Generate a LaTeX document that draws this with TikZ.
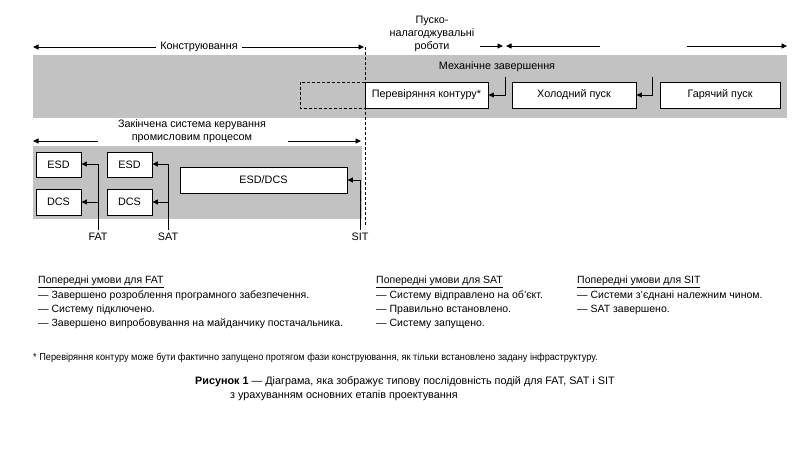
\documentclass[tikz,border=0pt]{standalone}
\usepackage{fontspec}
\setmainfont{Liberation Sans}
\newfontfamily\narrowsans[FakeStretch=0.92]{Liberation Sans}
\usetikzlibrary{arrows.meta}

\definecolor{band}{RGB}{194,194,194}

\tikzset{
  diag/.style={font=\fontsize{10.8}{13}\selectfont},
  stagebox/.style={draw=black, line width=0.9pt, fill=white, inner sep=0pt,
    font=\fontsize{10.8}{13}\selectfont},
  arr/.style={line width=0.8pt, -{Triangle[length=5.5pt,width=5pt]}},
  pline/.style={line width=0.8pt},
  phase/.style={line width=0.8pt, dash pattern=on 3pt off 2pt},
  listtext/.style={anchor=north west, align=left, inner sep=0pt,
    font=\fontsize{10.5}{14.3}\selectfont},
}

\newcommand{\boxat}[6]{%
  \node[stagebox, minimum width=#4-#2, minimum height=#5-#3]
    (#1) at ({(#2+#4)/2},{(#3+#5)/2}) {#6};}

\begin{document}
\begin{tikzpicture}[x=1pt,y=-1pt]
  \useasboundingbox (0,0) rectangle (800,462);

  % grey stage bands
  \fill[band] (33,55) rectangle (787,118);
  \fill[band] (33,146) rectangle (362,219);

  % construction phase arrow
  \coordinate (kL) at (33,47);
  \coordinate (kR) at (364,47);
  \draw[pline, {Triangle[length=5.5pt,width=5pt]}-{Triangle[length=5.5pt,width=5pt]}] (kL) -- (kR);
  \node[diag, fill=white, inner xsep=4pt] (kon) at (199,47) {Конструювання};

  % commissioning phase
  \node[diag, align=center, font=\fontsize{10.8}{13}\selectfont] (pnr) at (432,34)
    {Пуско-\\налагоджувальні\\роботи};
  \coordinate (p1s) at (480,46);
  \coordinate (p1e) at (503,46);
  \coordinate (p2s) at (600,46);
  \coordinate (p2e) at (506,46);
  \coordinate (p3s) at (687,46);
  \coordinate (p3e) at (787,46);
  \draw[arr] (p1s) -- (p1e);
  \draw[arr] (p2s) -- (p2e);
  \draw[arr] (p3s) -- (p3e);

  % phase boundary
  \coordinate (bT) at (365,47);
  \coordinate (bB) at (365,226);
  \draw[phase] (bT) -- (bB);

  % loop check may start earlier
  \draw[phase] (365,82) -- (300,82) -- (300,108) -- (365,108);

  % stages after mechanical completion
  \boxat{loop}{365}{82}{488}{108}{Перевіряння контуру*}
  \boxat{cold}{512}{82}{636}{108}{Холодний пуск}
  \boxat{hot}{660}{82}{780}{108}{Гарячий пуск}
  \node[diag] (mech) at (497,67) {Механічне завершення};

  \coordinate (m1) at (505,77);
  \coordinate (m2) at (652,77);
  \draw[arr] (m1) |- (loop.east |- 0,95);
  \draw[arr] (m2) |- (cold.east |- 0,95);

  % integrated control system
  \node[diag, align=center, font=\fontsize{10.8}{13}\selectfont] (ics) at (192,131)
    {Закінчена система керування\\промисловим процесом};
  \coordinate (iL) at (33,141);
  \coordinate (iLs) at (98,141);
  \coordinate (iRs) at (288,141);
  \coordinate (iR) at (361,141);
  \draw[arr] (iLs) -- (iL);
  \draw[arr] (iRs) -- (iR);

  \boxat{esdA}{36}{152}{81}{177}{ESD}
  \boxat{dcsA}{36}{189}{81}{215}{DCS}
  \boxat{esdB}{107}{152}{152}{177}{ESD}
  \boxat{dcsB}{107}{189}{152}{215}{DCS}
  \boxat{both}{180}{167}{347}{193}{ESD/DCS}

  % test points
  \node[diag] (fat) at (98,237) {FAT};
  \node[diag] (sat) at (168,237) {SAT};
  \node[diag] (sit) at (360,237) {SIT};

  \draw[pline] (fat.north) -- (98,164);
  \draw[arr] (98,164) -- (esdA.east |- 0,164);
  \draw[arr] (98,202) -- (dcsA.east |- 0,202);
  \draw[pline] (sat.north) -- (168,164);
  \draw[arr] (168,164) -- (esdB.east |- 0,164);
  \draw[arr] (168,202) -- (dcsB.east |- 0,202);
  \draw[pline] (sit.north) -- (360,180);
  \draw[arr] (360,180) -- (both.east |- 0,180);

  % preconditions
  \node[listtext] (preF) at (38,276) {\underline{Попередні умови для FAT}\\
    — Завершено розроблення програмного забезпечення.\\
    — Систему підключено.\\
    — Завершено випробовування на майданчику постачальника.};
  \node[listtext] (preS) at (376,276) {\underline{Попередні умови для SAT}\\
    — Систему відправлено на об'єкт.\\
    — Правильно встановлено.\\
    — Систему запущено.};
  \node[listtext] (preT) at (577,276) {\underline{Попередні умови для SIT}\\
    — Системи з'єднані належним чином.\\
    — SAT завершено.};

  % footnote and caption
  \node[anchor=west, inner sep=0pt, font=\narrowsans\fontsize{10}{11}\selectfont] (note) at (33,358)
    {* Перевіряння контуру може бути фактично запущено протягом фази конструювання, як тільки встановлено задану інфраструктуру.};
  \node[anchor=north west, align=left, inner sep=0pt, font=\fontsize{10.8}{14}\selectfont] (cap) at (195,376)
    {\textbf{Рисунок 1} — Діаграма, яка зображує типову послідовність подій для FAT, SAT і SIT\\
     \hspace*{35pt}з урахуванням основних етапів проектування};
\end{tikzpicture}
\end{document}
